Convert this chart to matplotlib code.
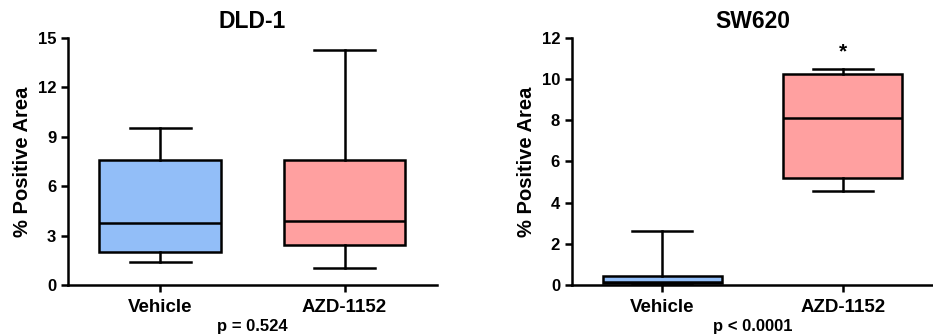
import matplotlib.pyplot as plt

plt.rcParams['font.family'] = ['Liberation Sans', 'DejaVu Sans']
plt.rcParams['font.weight'] = 'bold'

groups = ['Vehicle', 'AZD-1152']
colors = ['#92bef8', '#ffa0a0']

# DLD-1 box stats: whislo, q1, med, q3, whishi
dld_lo = [1.42, 1.01]
dld_q1 = [2.02, 2.43]
dld_med = [3.78, 3.89]
dld_q3 = [7.59, 7.60]
dld_hi = [9.55, 14.27]

# SW620
sw_lo = [0.02, 4.57]
sw_q1 = [0.08, 5.19]
sw_med = [0.15, 8.12]
sw_q3 = [0.42, 10.25]
sw_hi = [2.63, 10.49]


def make_stats(lo, q1, med, q3, hi):
    return [dict(whislo=lo[i], q1=q1[i], med=med[i], q3=q3[i], whishi=hi[i],
                 fliers=[], label=groups[i]) for i in range(len(groups))]


def box_panel(ax, stats, title, ymax, step, ptext, star=None):
    line = dict(color='black', linewidth=1.8)
    b = ax.bxp(stats, positions=[1, 2], widths=0.66, patch_artist=True,
               showfliers=False, boxprops=line, whiskerprops=line,
               capprops=line, medianprops=line, capwidths=0.33)
    for patch, c in zip(b['boxes'], colors):
        patch.set_facecolor(c)
    ax.set_xlim(0.5, 2.5)
    ax.set_ylim(0, ymax)
    ax.set_yticks(range(0, ymax + 1, step))
    ax.spines['top'].set_visible(False)
    ax.spines['right'].set_visible(False)
    for s in ['left', 'bottom']:
        ax.spines[s].set_linewidth(1.8)
    ax.tick_params(width=1.8, length=5, labelsize=12)
    ax.tick_params(axis='x', labelsize=13.5, pad=5)
    ax.set_ylabel('% Positive Area', fontsize=14.5, fontweight='bold', labelpad=4)
    ax.set_title(title, fontsize=16.5, fontweight='bold', pad=7)
    ax.set_xlabel(ptext, fontsize=12, fontweight='bold', labelpad=2)
    if star is not None:
        ax.text(2, star, '*', ha='center', va='center', fontsize=15, fontweight='bold')


fig = plt.figure(figsize=(9.33, 3.35), dpi=100)
ax1 = fig.add_axes([0.073, 0.149, 0.395, 0.738])
ax2 = fig.add_axes([0.613, 0.149, 0.387, 0.738])

box_panel(ax1, make_stats(dld_lo, dld_q1, dld_med, dld_q3, dld_hi), 'DLD-1', 15, 3, 'p = 0.524')
box_panel(ax2, make_stats(sw_lo, sw_q1, sw_med, sw_q3, sw_hi), 'SW620', 12, 2, 'p < 0.0001', star=11.3)

fig.savefig('out.png', dpi=100)
